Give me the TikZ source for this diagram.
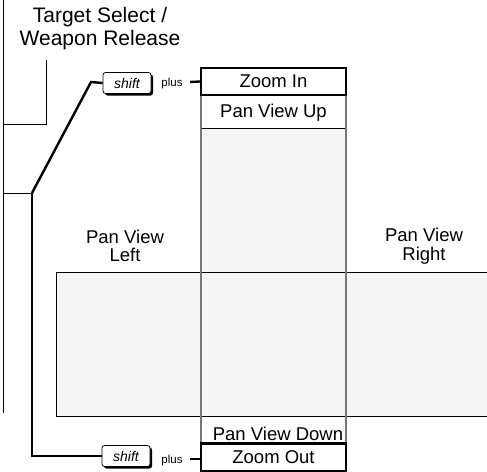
\documentclass[tikz,border=0pt]{standalone}
\usepackage{fontspec}
\setmainfont{Liberation Sans}
\usetikzlibrary{shadows}
\definecolor{panfill}{HTML}{F5F5F5}
\definecolor{edgegray}{HTML}{777777}
\tikzset{
  thinline/.style={line width=0.9pt, black},
  thickline/.style={line width=2.4pt, black},
  grayedge/.style={line width=1.6pt, edgegray},
  label/.style={font=\fontsize{18.5}{18}\selectfont, align=center, inner sep=0pt},
  biglabel/.style={font=\fontsize{21}{21}\selectfont, align=center, inner sep=0pt},
  keybox/.style={draw=black, line width=0.8pt, fill=white, rounded corners=2.5pt,
     minimum width=48pt, minimum height=21pt, inner sep=0pt,
     font=\fontsize{14}{14}\selectfont\itshape,
     drop shadow={shadow xshift=2pt, shadow yshift=-2pt, fill=black, opacity=1}},
  plustext/.style={font=\fontsize{11.5}{11.5}\selectfont, inner sep=0pt},
}
\begin{document}
\begin{tikzpicture}[x=1pt, y=-1pt]
\useasboundingbox (0,0) rectangle (487,471);
% grey fills
\fill[panfill] (201,128) rectangle (346,416);
\fill[panfill] (56,272) rectangle (487,416);
% strip outline
\draw[thinline] (487,272) -- (56,272) -- (56,416) -- (487,416);
\draw[thinline] (201,128) -- (346,128);
% column edges
\draw[grayedge] (201,95) -- (201,443);
\draw[grayedge] (346,95) -- (346,443);
% left frame
\draw[thinline] (3,0) -- (3,413);
\draw[thinline] (3,124) -- (46,124) -- (46,60);
\draw[thinline] (3,193) -- (32,193);
% boxes
\node[draw, thickline, minimum width=145pt, minimum height=27pt, inner sep=0pt, label] (zoomin) at (273.5,81.5) {Zoom In};
\node[label, anchor=base] (panup) at (273.5,117) {Pan View Up};
\node[label, anchor=base] (pandown) at (278,440) {Pan View Down};
\node[draw, thickline, minimum width=145pt, minimum height=28pt, inner sep=0pt, label] (zoomout) at (273.5,457.5) {Zoom Out};
% texts
\node[biglabel, anchor=base] (target1) at (100,23) {Target Select /};
\node[biglabel, anchor=base] (target2) at (100,45) {Weapon Release};
\node[label, anchor=base] (panleft1) at (125,243) {Pan View};
\node[label, anchor=base] (panleft2) at (125,261) {Left};
\node[label, anchor=base] (panright1) at (424,241) {Pan View};
\node[label, anchor=base] (panright2) at (424,260) {Right};
% shift keys
\node[keybox] (shift1) at (127,83) {shift};
\node[keybox] (shift2) at (126,456) {shift};
\node[plustext, anchor=base] (plus1) at (172,86) {plus};
\node[plustext, anchor=base] (plus2) at (172,463) {plus};
% connectors
\coordinate (junction) at (32,193);
\coordinate (bend) at (91,82);
\draw[thickline, line join=miter] (junction) -- (bend) -- (shift1.west);
\draw[thickline] (junction) |- (shift2.west);
\draw[thickline] (190,82) -- (zoomin.west);
\draw[thickline] (190,459) -- (zoomout.west |- 0,459);
\end{tikzpicture}
\end{document}
